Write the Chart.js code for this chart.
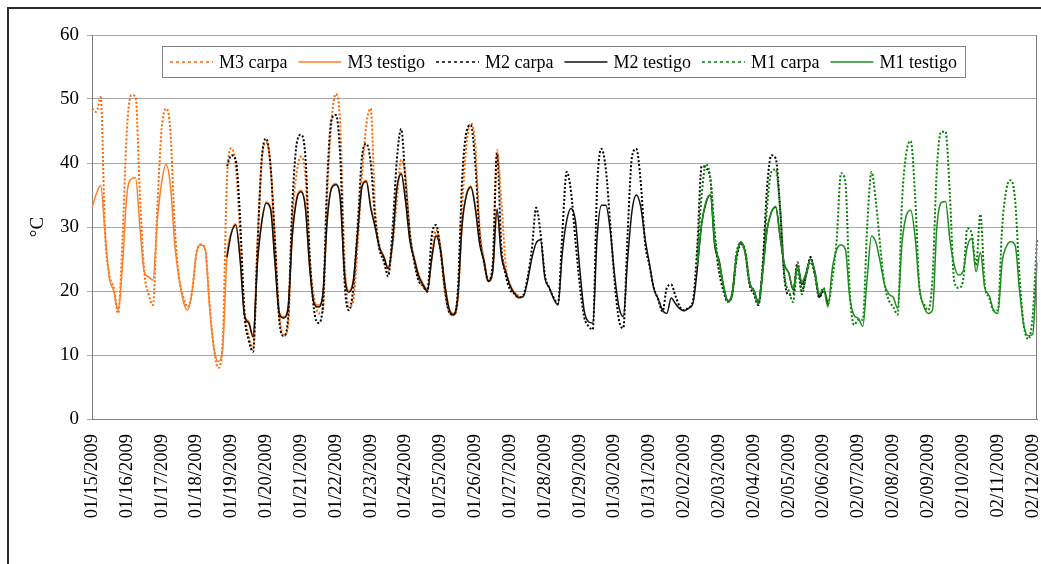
<!DOCTYPE html>
<html>
<head>
<meta charset="utf-8">
<title>Temperatura M1 M2 M3</title>
<script src="https://cdn.jsdelivr.net/npm/chart.js@4.4.1/dist/chart.umd.min.js"></script>
<style>
  html, body { margin: 0; padding: 0; background: #fff; }
  #wrap { position: relative; width: 1041px; height: 564px; }
</style>
</head>
<body>
<div id="wrap"><canvas id="tempChart"></canvas></div>
<script>
// day labels on the category axis (02/01 is not in the record)
const days = [
  "01/15/2009", "01/16/2009", "01/17/2009", "01/18/2009", "01/19/2009", "01/20/2009", "01/21/2009",
  "01/22/2009", "01/23/2009", "01/24/2009", "01/25/2009", "01/26/2009", "01/27/2009", "01/28/2009",
  "01/29/2009", "01/30/2009", "01/31/2009", "02/02/2009", "02/03/2009", "02/04/2009", "02/05/2009",
  "02/06/2009", "02/07/2009", "02/08/2009", "02/09/2009", "02/10/2009", "02/11/2009", "02/12/2009"
];
const pointsPerDay = 8;     // one reading every 3 h
const totalPoints = 218;

// M3 : readings 0..98
const m3Start = 0;
const m3Carpa = [
  48.5, 48, 50.3, 29, 22.5, 20.5, 16.5, 28,
  45, 50.6, 50.4, 35, 23, 19.5, 17.8, 33,
  45.3, 48.5, 45, 30, 22, 19, 17.5, 20,
  26, 27.3, 26.5, 18, 11, 8, 12, 37.5,
  42.3, 39.5, 29, 17, 13, 11, 27.5, 40.5,
  43.2, 39.5, 27.5, 16.5, 13, 14.5, 31, 38.5,
  41, 38, 25, 19, 16.5, 16.8, 35, 46.5,
  50.8, 46, 25, 17.5, 18.5, 27, 38, 46,
  48.5, 33, 27, 25, 23, 27, 34, 40.5,
  38, 29, 25, 22, 20.7, 20, 25.5, 29.5,
  27, 20, 16.8, 16.2, 18.5, 33, 43, 46.2,
  43, 30, 25, 21.5, 23, 42, 34, 24,
  21, 19.5, 18.8
];
const m3Testigo = [
  33, 35.2, 36.5, 29, 22, 20, 17, 24,
  35, 37.5, 37.7, 30, 23, 22.2, 21.7, 31,
  37, 39.8, 36.5, 27.3, 22, 18.3, 17, 20,
  26, 27.2, 26.5, 17.5, 11, 9, 11, 25.5,
  29.2, 30.5, 25.3, 16.5, 15.2, 13, 24.8, 31,
  33.9, 33, 24.8, 16.8, 16, 17.5, 28.5, 34.5,
  35.7, 33.2, 23.8, 18.3, 17.8, 19.3, 30.8, 36.2,
  36.8, 34.2, 23.3, 20, 21.8, 29.3, 36.5, 37.3,
  33.3, 30.3, 27, 25.5, 23.8, 27.3, 35.8, 38.5,
  34.3, 28, 25.3, 22.6, 21.2, 20.3, 24.8, 28.8,
  26.7, 21.3, 17.4, 16.5, 19.3, 30.2, 35.2, 36.4,
  33.3, 27.6, 24.9, 21.7, 23.2, 32.3, 25.8, 23.2,
  21, 19.8, 19.3
];

// M2 : readings 31..169
const m2Start = 31;
const m2Carpa = [
  39.5, 41.2, 40.5, 31.5, 16.5, 12.3, 10.5, 27,
  40.8, 43.8, 39.5, 28, 15.5, 13, 15.5, 33.5,
  43, 44.4, 41, 25.5, 17, 15, 17.5, 37,
  46.8, 47.5, 41, 21.5, 17, 20.5, 30, 41,
  43, 40, 31.5, 26.5, 24.7, 22.3, 29.5, 40.5,
  45.3, 37, 29, 24.5, 21.6, 20.8, 19.9, 28.5,
  30.3, 26.5, 20.5, 16.7, 16.3, 20, 37.5, 44.9,
  45.9, 40, 29, 24.5, 21.6, 24, 41.5, 27,
  22.5, 20.2, 19.6, 19, 19.3, 22, 26.5, 33,
  29, 22.5, 20.5, 19, 18, 29, 38.6, 35.5,
  28, 21, 16, 14.5, 14, 36.5, 42.2, 39,
  30.5, 21.5, 15.5, 14.2, 29, 41, 42.2, 37,
  27.5, 24, 20.5, 18.7, 16.8, 20.5, 21, 19.2,
  17.5, 17, 17.4, 18.5, 27, 39.5, 39.2, 37.5,
  28.5, 23, 20, 18.3, 19.5, 25, 27.3, 26,
  21, 19.5, 17.8, 24, 36, 41.2, 40.7, 33,
  22, 19.4, 19.5, 24.5, 20, 22.5, 25.3, 22.5,
  19, 20, 18
];
const m2Testigo = [
  25.3, 29, 30.3, 25, 16.2, 15, 12.8, 24.5,
  30.8, 33.7, 32.8, 24.5, 16.5, 15.8, 17.2, 28.7,
  34.3, 35.5, 33, 23.5, 18, 17.5, 19.5, 31,
  36, 36.6, 34.5, 22.5, 19.8, 21.5, 29, 36.3,
  37.1, 33, 30, 26.8, 25.3, 23.5, 27.5, 36,
  38.3, 34, 27.8, 25, 22.4, 21, 20, 25,
  28.6, 26.5, 21, 17.2, 16.3, 19, 30.5, 35,
  36.2, 33, 27.4, 24.7, 21.5, 23, 32.8, 25.5,
  23, 20.8, 19.6, 19, 19.1, 21.5, 25.1, 27.5,
  28, 22, 20.5, 18.8, 17.8, 26, 31, 32.9,
  31, 23.5, 17, 15.2, 15, 28.5, 33.4, 33.4,
  29.5, 22.5, 17.5, 16, 25, 32.5, 35, 33.2,
  28.2, 24.3, 20.4, 18.8, 17, 16.5, 18.9, 18,
  17.2, 16.9, 17.3, 18.1, 23.5, 30.5, 33.8, 35,
  27, 24.8, 20.8, 18.4, 19.5, 25.5, 27.6, 26,
  21.2, 20.1, 18.3, 23, 29.5, 32.3, 33.1, 28.5,
  24.1, 22.8, 20.2, 24, 21, 22.8, 25, 23,
  19, 20.3, 17.8
];

// M1 : readings 139..217
const m1Start = 139;
const m1Carpa = [
  25, 35, 39.8, 37.5, 29, 24, 20.5, 18.5,
  19.5, 26, 27.5, 26.3, 21.5, 20, 18, 23,
  33, 38.6, 39, 33, 22.5, 20, 18.3, 23.5,
  19.5, 22.5, 24.5, 22.5, 19.5, 20.5, 18, 22,
  28, 38.4, 37, 20, 14.7, 15.5, 15.5, 30,
  38.6, 34, 27, 21, 18.5, 17.5, 16.3, 34,
  41.6, 43.4, 35, 20.5, 18, 17, 22, 39,
  44.9, 44.9, 35, 21.5, 20.5, 21.5, 29.8, 29,
  24, 32, 21, 19, 17, 17, 30, 36,
  37.3, 34, 22, 14.5, 12.5, 16, 28
];
const m1Testigo = [
  24, 30.5, 34, 35, 27.5, 24.5, 21, 18.3,
  19.3, 25.5, 27.7, 26, 21.3, 20, 18, 23,
  29.5, 32.3, 33.2, 28.5, 24.2, 22.8, 20.3, 24,
  21.5, 22.8, 25, 23, 19.5, 20.3, 17.5, 23.5,
  26.5, 27.2, 26.5, 19, 16.2, 15.7, 14.5, 22,
  28.6, 27.6, 24.5, 21, 19.5, 19, 17.3, 27.5,
  31.8, 32.6, 28.5, 20.5, 17.6, 16.5, 17, 30,
  33.8, 34, 28, 24, 22.5, 23, 27, 28.2,
  23, 26, 20.5, 19.3, 17, 16.5, 24.5, 27,
  27.7, 27.1, 20, 14.5, 13, 13.2, 24.5
];

const yTicks = { min: 0, max: 60, step: 10 };

function placeSeries(start, values) {
  const out = new Array(totalPoints).fill(null);
  values.forEach((v, k) => { out[start + k] = v; });
  return out;
}

const labels = [];
for (let i = 0; i < totalPoints; i++) {
  labels.push(days[Math.floor(i / pointsPerDay)]);
}

const serif = "'Liberation Serif', 'Times New Roman', serif";

function series(label, start, values, color, dotted, order) {
  return {
    label: label,
    data: placeSeries(start, values),
    borderColor: color,
    backgroundColor: color,
    borderWidth: dotted ? 2 : 1.5,
    borderDash: dotted ? [2, 2] : [],
    spanGaps: false,
    fill: false,
    order: order, // later series sit on top, as in the original
  };
}

// frame round the whole picture, right edge of the plot and the boxed legend
const framePlugin = {
  id: "frame",
  beforeDraw(chart) {
    const ctx = chart.ctx;
    ctx.save();
    ctx.fillStyle = "#fff";
    ctx.fillRect(0, 0, chart.width, chart.height);
    ctx.restore();
  },
  afterDraw(chart) {
    const ctx = chart.ctx;
    const area = chart.chartArea;
    ctx.save();
    ctx.strokeStyle = "#2a2a2a";
    ctx.lineWidth = 2;
    ctx.beginPath();
    ctx.moveTo(8, chart.height);
    ctx.lineTo(8, 8);
    ctx.lineTo(chart.width, 8);
    ctx.stroke();

    ctx.strokeStyle = "#808080";
    ctx.lineWidth = 1;
    ctx.beginPath();
    ctx.moveTo(area.right - 0.5, area.top);
    ctx.lineTo(area.right - 0.5, area.bottom);
    ctx.stroke();

    // legend
    ctx.fillStyle = "#fff";
    ctx.fillRect(162.5, 46.5, 803, 31);
    ctx.strokeStyle = "#808080";
    ctx.strokeRect(162.5, 46.5, 803, 31);
    ctx.font = "18px " + serif;
    ctx.textBaseline = "middle";
    let x = 170;
    const y = 62;
    chart.data.datasets.forEach((ds) => {
      const dotted = ds.borderDash.length > 0;
      ctx.strokeStyle = ds.borderColor;
      ctx.lineWidth = 1.5;
      ctx.setLineDash(dotted ? [3, 3] : []);
      ctx.beginPath();
      ctx.moveTo(x, y);
      ctx.lineTo(x + 43, y);
      ctx.stroke();
      ctx.setLineDash([]);
      ctx.fillStyle = "#000";
      ctx.fillText(ds.label, x + 49, y + 1);
      x += 49 + ctx.measureText(ds.label).width + 11;
    });
    ctx.restore();
  },
};

const ctx = document.getElementById("tempChart").getContext("2d");
const tempChart = new Chart(ctx, {
  type: "line",
  data: {
    labels: labels,
    datasets: [
      series("M3 carpa", m3Start, m3Carpa, "#ff6600", true, 5),
      series("M3 testigo", m3Start, m3Testigo, "#ff7f2a", false, 4),
      series("M2 carpa", m2Start, m2Carpa, "#000000", true, 3),
      series("M2 testigo", m2Start, m2Testigo, "#111111", false, 2),
      series("M1 carpa", m1Start, m1Carpa, "#008000", true, 1),
      series("M1 testigo", m1Start, m1Testigo, "#1e8f1e", false, 0),
    ],
  },
  options: {
    responsive: true,
    maintainAspectRatio: false,
    animation: false,
    layout: { padding: { top: 35, right: 4, bottom: 0, left: 0 } },
    elements: {
      point: { radius: 0, hoverRadius: 0 },
      line: { cubicInterpolationMode: "monotone" },
    },
    plugins: {
      legend: { display: false },
      tooltip: { enabled: false },
    },
    scales: {
      x: {
        type: "category",
        grid: { display: false, drawTicks: false },
        border: { display: true, color: "#808080" },
        ticks: {
          autoSkip: false,
          maxRotation: 90,
          minRotation: 90,
          padding: 15,
          color: "#000",
          font: { family: serif, size: 18.5 },
          callback: function (val, idx) {
            return idx % pointsPerDay === 0 ? this.getLabelForValue(val) : null;
          },
        },
        afterFit: function (scale) {
          scale.height = 145;
          scale.paddingLeft = 0;
          scale.paddingRight = 0;
        },
      },
      y: {
        min: yTicks.min,
        max: yTicks.max,
        ticks: {
          stepSize: yTicks.step,
          padding: 8,
          color: "#000",
          font: { family: serif, size: 19 },
        },
        grid: { color: "#a6a6a6", tickLength: 5 },
        border: { color: "#808080" },
        title: {
          display: true,
          text: "°C",
          color: "#000",
          font: { family: serif, size: 19 },
          padding: { top: 27, bottom: 0 },
        },
        afterFit: function (scale) {
          scale.width = 92;
        },
      },
    },
  },
  plugins: [framePlugin],
});
</script>
</body>
</html>
